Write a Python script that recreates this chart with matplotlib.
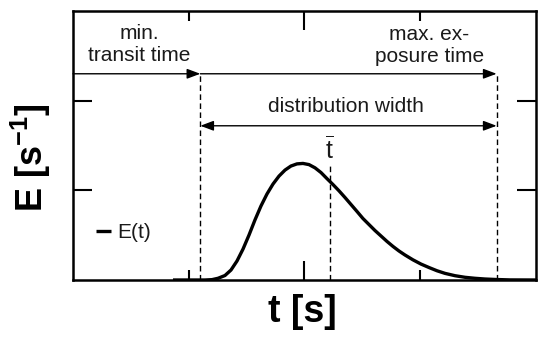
import numpy as np
import matplotlib
matplotlib.use('Agg')
import matplotlib.pyplot as plt
from matplotlib.ticker import FixedLocator

plt.rcParams['font.family'] = ['Liberation Sans', 'DejaVu Sans']
plt.rcParams['mathtext.fontset'] = 'custom'
plt.rcParams['mathtext.rm'] = 'Liberation Sans'
plt.rcParams['mathtext.bf'] = 'Liberation Sans:bold'

# residence time curve E(t)
t = [0.864, 0.994, 1.140, 1.201, 1.253, 1.313, 1.365, 1.417, 1.469, 1.521,
     1.572, 1.624, 1.676, 1.728, 1.780, 1.832, 1.883, 1.935, 1.987, 2.039,
     2.091, 2.143, 2.194, 2.246, 2.298, 2.350, 2.402, 2.454, 2.505, 2.557,
     2.609, 2.661, 2.713, 2.765, 2.816, 2.868, 2.937, 3.006, 3.076, 3.145,
     3.214, 3.300, 3.387, 3.473, 3.559, 3.646, 3.775, 4.0]
E = [0.0, 0.0, 0.0, 0.004, 0.019, 0.050, 0.111, 0.212, 0.345, 0.502,
     0.669, 0.825, 0.959, 1.070, 1.159, 1.226, 1.271, 1.295, 1.300, 1.287,
     1.251, 1.198, 1.131, 1.065, 0.995, 0.920, 0.842, 0.764, 0.686, 0.619,
     0.552, 0.491, 0.430, 0.374, 0.324, 0.279, 0.225, 0.178, 0.139, 0.103,
     0.074, 0.048, 0.030, 0.019, 0.011, 0.006, 0.001, 0.0]

t_min = 1.10      # min. transit time
t_mean = 2.22     # mean residence time
t_max = 3.66      # max. exposure time
y_top_arrow = 2.30
y_width_arrow = 1.72
y_mean_top = 1.30

fig = plt.figure(figsize=(5.5, 3.42), dpi=100)
ax = fig.add_axes([0.1327, 0.1813, 0.8418, 0.7865])

ax.plot(t, E, color='black', lw=2.4, label='E(t)', solid_capstyle='butt',
        solid_joinstyle='round')

dash = dict(color='black', lw=1.0, ls=(0, (4, 2.5)))
ax.plot([t_min, t_min], [0, y_top_arrow], **dash)
ax.plot([t_max, t_max], [0, y_top_arrow], **dash)
ax.plot([t_mean, t_mean], [0, y_mean_top], **dash)

arr = dict(arrowstyle='-|>,head_length=0.8,head_width=0.3', color='black',
           lw=1.0, shrinkA=0, shrinkB=0)
ax.annotate('', xy=(t_min, y_top_arrow), xytext=(0, y_top_arrow), arrowprops=arr)
ax.annotate('', xy=(t_max, y_top_arrow), xytext=(t_min, y_top_arrow), arrowprops=arr)
arr2 = dict(arr, arrowstyle='<|-|>,head_length=0.8,head_width=0.3')
ax.annotate('', xy=(t_max, y_width_arrow), xytext=(t_min, y_width_arrow), arrowprops=arr2)

tc = '#1a1a1a'
ax.text(0.57, 2.625, 'min.\ntransit time', ha='center', va='center',
        fontsize=15, color=tc, linespacing=1.2)
ax.text(3.08, 2.61, 'max. ex-\nposure time', ha='center', va='center',
        fontsize=15, color=tc, linespacing=1.2)
ax.text(2.36, 1.93, 'distribution width', ha='center', va='center',
        fontsize=15, color=tc)
ax.text(t_mean, 1.30, r'$\overline{\mathrm{t}}$', ha='center', va='bottom',
        fontsize=18, color=tc)

ax.set_xlim(0, 4)
ax.set_ylim(0, 3)
ax.xaxis.set_major_locator(FixedLocator([2]))
ax.xaxis.set_minor_locator(FixedLocator([1, 3]))
ax.yaxis.set_major_locator(FixedLocator([1, 2]))
ax.tick_params(which='both', direction='in', top=True, right=True,
               labelbottom=False, labelleft=False, width=1.5, color='black')
ax.tick_params(which='major', length=14)
ax.tick_params(which='minor', length=7)
for s in ax.spines.values():
    s.set_linewidth(1.8)

ax.set_xlabel('t [s]', fontsize=27, fontweight='bold')
ax.set_ylabel(r'E [s$^{\mathbf{-1}}$]', fontsize=26, fontweight='bold')
ax.xaxis.set_label_coords(0.496, -0.052)
ax.yaxis.set_label_coords(-0.043, 0.455)

leg = ax.legend(loc='center left', bbox_to_anchor=(0.05, 0.175), frameon=False,
                handlelength=0.7, handletextpad=0.3, borderpad=0, borderaxespad=0,
                fontsize=15)
for txt in leg.get_texts():
    txt.set_color(tc)

fig.savefig('out.png', dpi=100)
